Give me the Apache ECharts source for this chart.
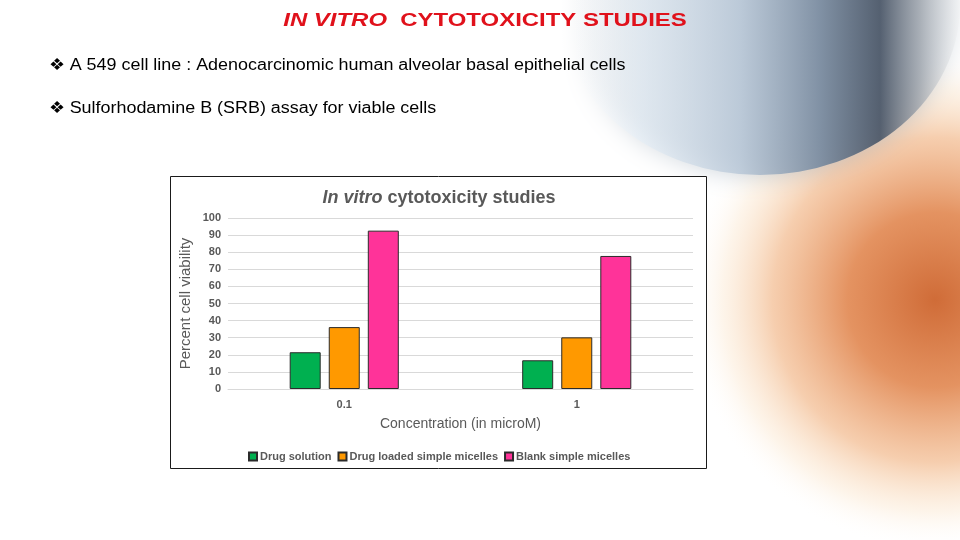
<!DOCTYPE html>
<html>
<head>
<meta charset="utf-8">
<script src="https://cdn.jsdelivr.net/npm/echarts@6/dist/echarts.min.js"></script>
<style>
html,body{margin:0;padding:0;background:#fff;}
#chart{position:absolute;left:0;top:0;width:960px;height:540px;}
</style>
</head>
<body>
<div id="chart"></div>
<script>
const categories = ['0.1', '1'];
const seriesNames = ['Drug solution', 'Drug loaded simple micelles', 'Blank simple micelles'];
const drugSolution = [21.5, 16.8];
const drugLoadedMicelles = [36.2, 30.2];
const blankMicelles = [92.6, 77.8];
const yTicks = [0, 10, 20, 30, 40, 50, 60, 70, 80, 90, 100];
const colors = ['#00b050', '#ff9900', '#ff3399'];

const chart = echarts.init(document.getElementById('chart'), null, {renderer: 'canvas'});
const font = '"Liberation Sans", Arial, sans-serif';
const values = [drugSolution, drugLoadedMicelles, blankMicelles];

chart.setOption({
  backgroundColor: '#ffffff',
  animation: false,
  title: {
    text: '{i|In vitro} cytotoxicity studies',
    left: 434, top: 184, textAlign: 'center',
    textStyle: {
      fontFamily: font, fontSize: 18, fontWeight: 'bold', color: '#595959',
      rich: {i: {fontFamily: font, fontSize: 18, fontWeight: 'bold', fontStyle: 'italic', color: '#595959'}}
    }
  },
  graphic: [
    {type: 'circle', z: -30, silent: true, shape: {cx: 935, cy: 300, r: 250},
     style: {fill: new echarts.graphic.RadialGradient(0.5, 0.5, 0.5, [
       {offset: 0, color: 'rgba(205,100,45,0.95)'},
       {offset: 0.35, color: 'rgba(225,135,80,0.9)'},
       {offset: 0.65, color: 'rgba(242,185,140,0.7)'},
       {offset: 0.85, color: 'rgba(250,225,195,0.35)'},
       {offset: 1, color: 'rgba(255,255,255,0)'}])}},
    {type: 'circle', z: -25, silent: true, x: 760, y: 5, scaleY: 0.85,
     shape: {cx: 0, cy: 0, r: 200},
     style: {shadowBlur: 25, shadowColor: 'rgba(150,165,180,0.6)',
       fill: new echarts.graphic.LinearGradient(0, 0, 1, 0, [
       {offset: 0, color: 'rgba(255,255,255,0)'},
       {offset: 0.2, color: 'rgba(228,238,247,0.6)'},
       {offset: 0.45, color: 'rgba(185,200,216,0.85)'},
       {offset: 0.65, color: 'rgba(125,142,162,0.95)'},
       {offset: 0.8, color: 'rgba(75,87,104,0.92)'},
       {offset: 0.9, color: 'rgba(160,166,174,0.8)'},
       {offset: 1, color: 'rgba(240,241,242,0.4)'}])}},
    {type: 'rect', z: -10, shape: {x: 170.5, y: 176.5, width: 536, height: 292},
     style: {fill: '#ffffff', stroke: '#1a1a1a', lineWidth: 1}},
    {type: 'text', x: 485, y: 21, scaleX: 1.26, style: {
      text: '{i|IN VITRO}  CYTOTOXICITY STUDIES', align: 'center', verticalAlign: 'middle',
      font: 'bold 19px ' + font, fill: '#e0111b',
      rich: {i: {fontStyle: 'italic', fontWeight: 'bold', fontSize: 19, fontFamily: font, fill: '#e0111b'}}
    }},
    {type: 'text', x: 49, y: 66, scaleX: 1.12, style: {
      text: '\u2756 A 549 cell line : Adenocarcinomic human alveolar basal epithelial cells',
      verticalAlign: 'middle', font: '16px ' + font, fill: '#000000'}},
    {type: 'text', x: 49, y: 109, scaleX: 1.12, style: {
      text: '\u2756 Sulforhodamine B (SRB) assay for viable cells',
      verticalAlign: 'middle', font: '16px ' + font, fill: '#000000'}}
  ],
  legend: {
    data: seriesNames,
    left: 243, top: 446,
    itemWidth: 8, itemHeight: 8, itemGap: 6,
    icon: 'rect',
    textStyle: {fontFamily: font, fontSize: 11, fontWeight: 'bold', color: '#595959', padding: [0,0,0,-2]}
  },
  grid: {left: 228, right: 267, top: 218, bottom: 151, containLabel: false},
  xAxis: {
    type: 'category', data: categories,
    name: 'Concentration (in microM)', nameLocation: 'middle', nameGap: 28,
    nameTextStyle: {fontFamily: font, fontSize: 14, color: '#595959'},
    axisLine: {show: true, lineStyle: {color: '#d9d9d9'}},
    axisTick: {show: false},
    axisLabel: {fontFamily: font, fontSize: 11, fontWeight: 'bold', color: '#595959', margin: 10}
  },
  yAxis: {
    type: 'value', min: 0, max: 100, interval: 10,
    name: 'Percent cell viability', nameLocation: 'middle', nameGap: 35, nameRotate: 90,
    nameTextStyle: {fontFamily: font, fontSize: 15, color: '#595959'},
    axisLine: {show: false}, axisTick: {show: false},
    axisLabel: {fontFamily: font, fontSize: 11, fontWeight: 'bold', color: '#595959', margin: 7,
      formatter: v => yTicks.includes(v) ? String(v) : ''},
    splitLine: {lineStyle: {color: '#d9d9d9'}}
  },
  series: seriesNames.map((n, i) => ({
    name: n, type: 'bar', data: values[i],
    barWidth: 31, barGap: '26%', barCategoryGap: '52%',
    itemStyle: {color: colors[i], borderColor: '#2b2b2b', borderWidth: 1}
  }))
});
</script>
</body>
</html>
